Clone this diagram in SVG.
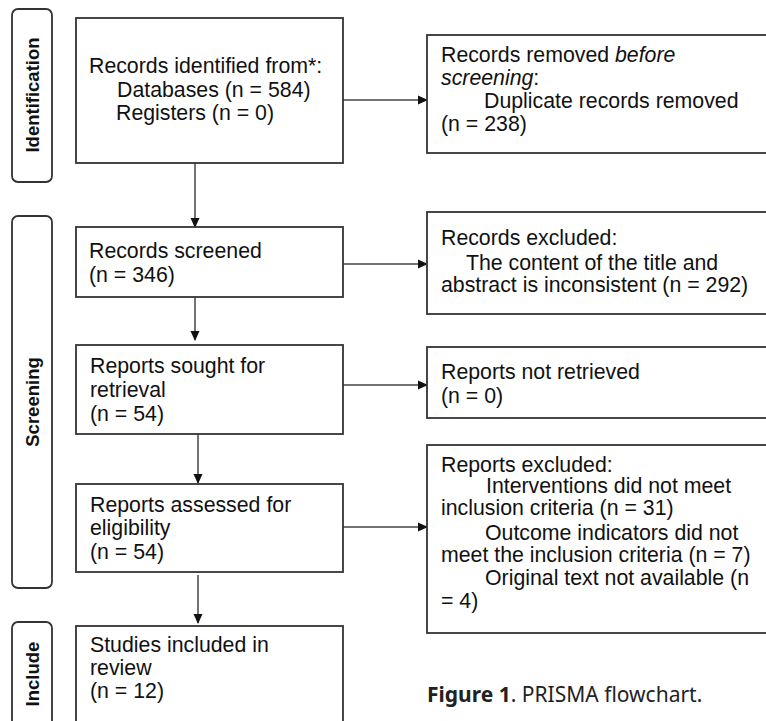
<svg xmlns="http://www.w3.org/2000/svg" width="766" height="721" viewBox="0 0 766 721">
<defs>
<style>
.box{fill:#fff;stroke:#333;stroke-width:1.8}
.lab{fill:#fff;stroke:#333;stroke-width:1.8}
.t{font-size:21.3px;fill:#111}
.s{font-size:18.5px;font-weight:bold;fill:#111}
.c{font-size:21px;fill:#222}
.ln{stroke:#444;stroke-width:1.5;fill:none}
</style>
<marker id="ah" markerWidth="10" markerHeight="10" refX="9" refY="5" orient="auto" markerUnits="userSpaceOnUse">
<path d="M0,0.5 L10,5 L0,9.5 z" fill="#111"/>
</marker>
</defs>
<rect width="766" height="721" fill="#fff"/>
<g font-family="Liberation Sans, Arial, Helvetica, sans-serif">
<g id="label-identification">
<rect class="lab" x="12" y="9" width="40" height="173" rx="6"/>
<text class="s" transform="translate(39,95) rotate(-90)" text-anchor="middle">Identification</text>
</g>
<g id="label-screening">
<rect class="lab" x="12" y="216" width="40" height="372" rx="6"/>
<text class="s" transform="translate(39,402) rotate(-90)" text-anchor="middle">Screening</text>
</g>
<g id="label-include">
<rect class="lab" x="12" y="622" width="40" height="110" rx="6"/>
<text class="s" transform="translate(39,674) rotate(-90)" text-anchor="middle">Include</text>
</g>

<g id="connectors">
<line class="ln" x1="343" y1="100" x2="427" y2="100" marker-end="url(#ah)"/>
<line class="ln" x1="195" y1="163" x2="195" y2="227" marker-end="url(#ah)"/>
<line class="ln" x1="343" y1="264" x2="427" y2="264" marker-end="url(#ah)"/>
<line class="ln" x1="195" y1="297" x2="195" y2="340" marker-end="url(#ah)"/>
<line class="ln" x1="343" y1="385" x2="427" y2="385" marker-end="url(#ah)"/>
<line class="ln" x1="198" y1="434" x2="198" y2="483" marker-end="url(#ah)"/>
<line class="ln" x1="343" y1="527" x2="427" y2="527" marker-end="url(#ah)"/>
<line class="ln" x1="198" y1="575" x2="198" y2="623" marker-end="url(#ah)"/>
</g>

<g id="identified">
<rect class="box" x="76" y="18" width="267" height="145"/>
<text class="t" x="89" y="73">Records identified from*:</text>
<text class="t" x="117" y="97">Databases (n = 584)</text>
<text class="t" x="116" y="120">Registers (n = 0)</text>
</g>
<g id="removed">
<rect class="box" x="427" y="35" width="345" height="118"/>
<text class="t" x="441" y="62">Records removed <tspan font-style="italic">before</tspan></text>
<text class="t" x="441" y="85"><tspan font-style="italic">screening</tspan>:</text>
<text class="t" x="484" y="108">Duplicate records removed</text>
<text class="t" x="441" y="131">(n = 238)</text>
</g>
<g id="screened">
<rect class="box" x="76" y="227" width="267" height="70"/>
<text class="t" x="89" y="258">Records screened</text>
<text class="t" x="89" y="282">(n = 346)</text>
</g>
<g id="excluded">
<rect class="box" x="427" y="212" width="345" height="102"/>
<text class="t" x="441" y="245">Records excluded:</text>
<text class="t" x="466" y="270">The content of the title and</text>
<text class="t" x="441" y="292">abstract is inconsistent (n = 292)</text>
</g>
<g id="sought">
<rect class="box" x="76" y="345" width="267" height="89"/>
<text class="t" x="90" y="373">Reports sought for</text>
<text class="t" x="90" y="397">retrieval</text>
<text class="t" x="90" y="421">(n = 54)</text>
</g>
<g id="notretrieved">
<rect class="box" x="427" y="347" width="345" height="71"/>
<text class="t" x="441" y="379">Reports not retrieved</text>
<text class="t" x="441" y="403">(n = 0)</text>
</g>
<g id="assessed">
<rect class="box" x="76" y="484" width="267" height="88"/>
<text class="t" x="90" y="512">Reports assessed for</text>
<text class="t" x="90" y="535">eligibility</text>
<text class="t" x="90" y="559">(n = 54)</text>
</g>
<g id="reportsexcluded">
<rect class="box" x="427" y="445" width="345" height="188"/>
<text class="t" x="441" y="472">Reports excluded:</text>
<text class="t" x="486" y="493">Interventions did not meet</text>
<text class="t" x="441" y="515">inclusion criteria (n = 31)</text>
<text class="t" x="485" y="540">Outcome indicators did not</text>
<text class="t" x="441" y="562">meet the inclusion criteria (n = 7)</text>
<text class="t" x="485" y="585">Original text not available (n</text>
<text class="t" x="441" y="608">= 4)</text>
</g>
<g id="included">
<rect class="box" x="76" y="626" width="267" height="110"/>
<text class="t" x="90" y="652">Studies included in</text>
<text class="t" x="90" y="675">review</text>
<text class="t" x="90" y="698">(n = 12)</text>
</g>
</g>
<text class="c" font-family="Noto Sans, Open Sans, sans-serif" x="427" y="702"><tspan font-weight="bold">Figure 1</tspan>. PRISMA flowchart.</text>
</svg>
